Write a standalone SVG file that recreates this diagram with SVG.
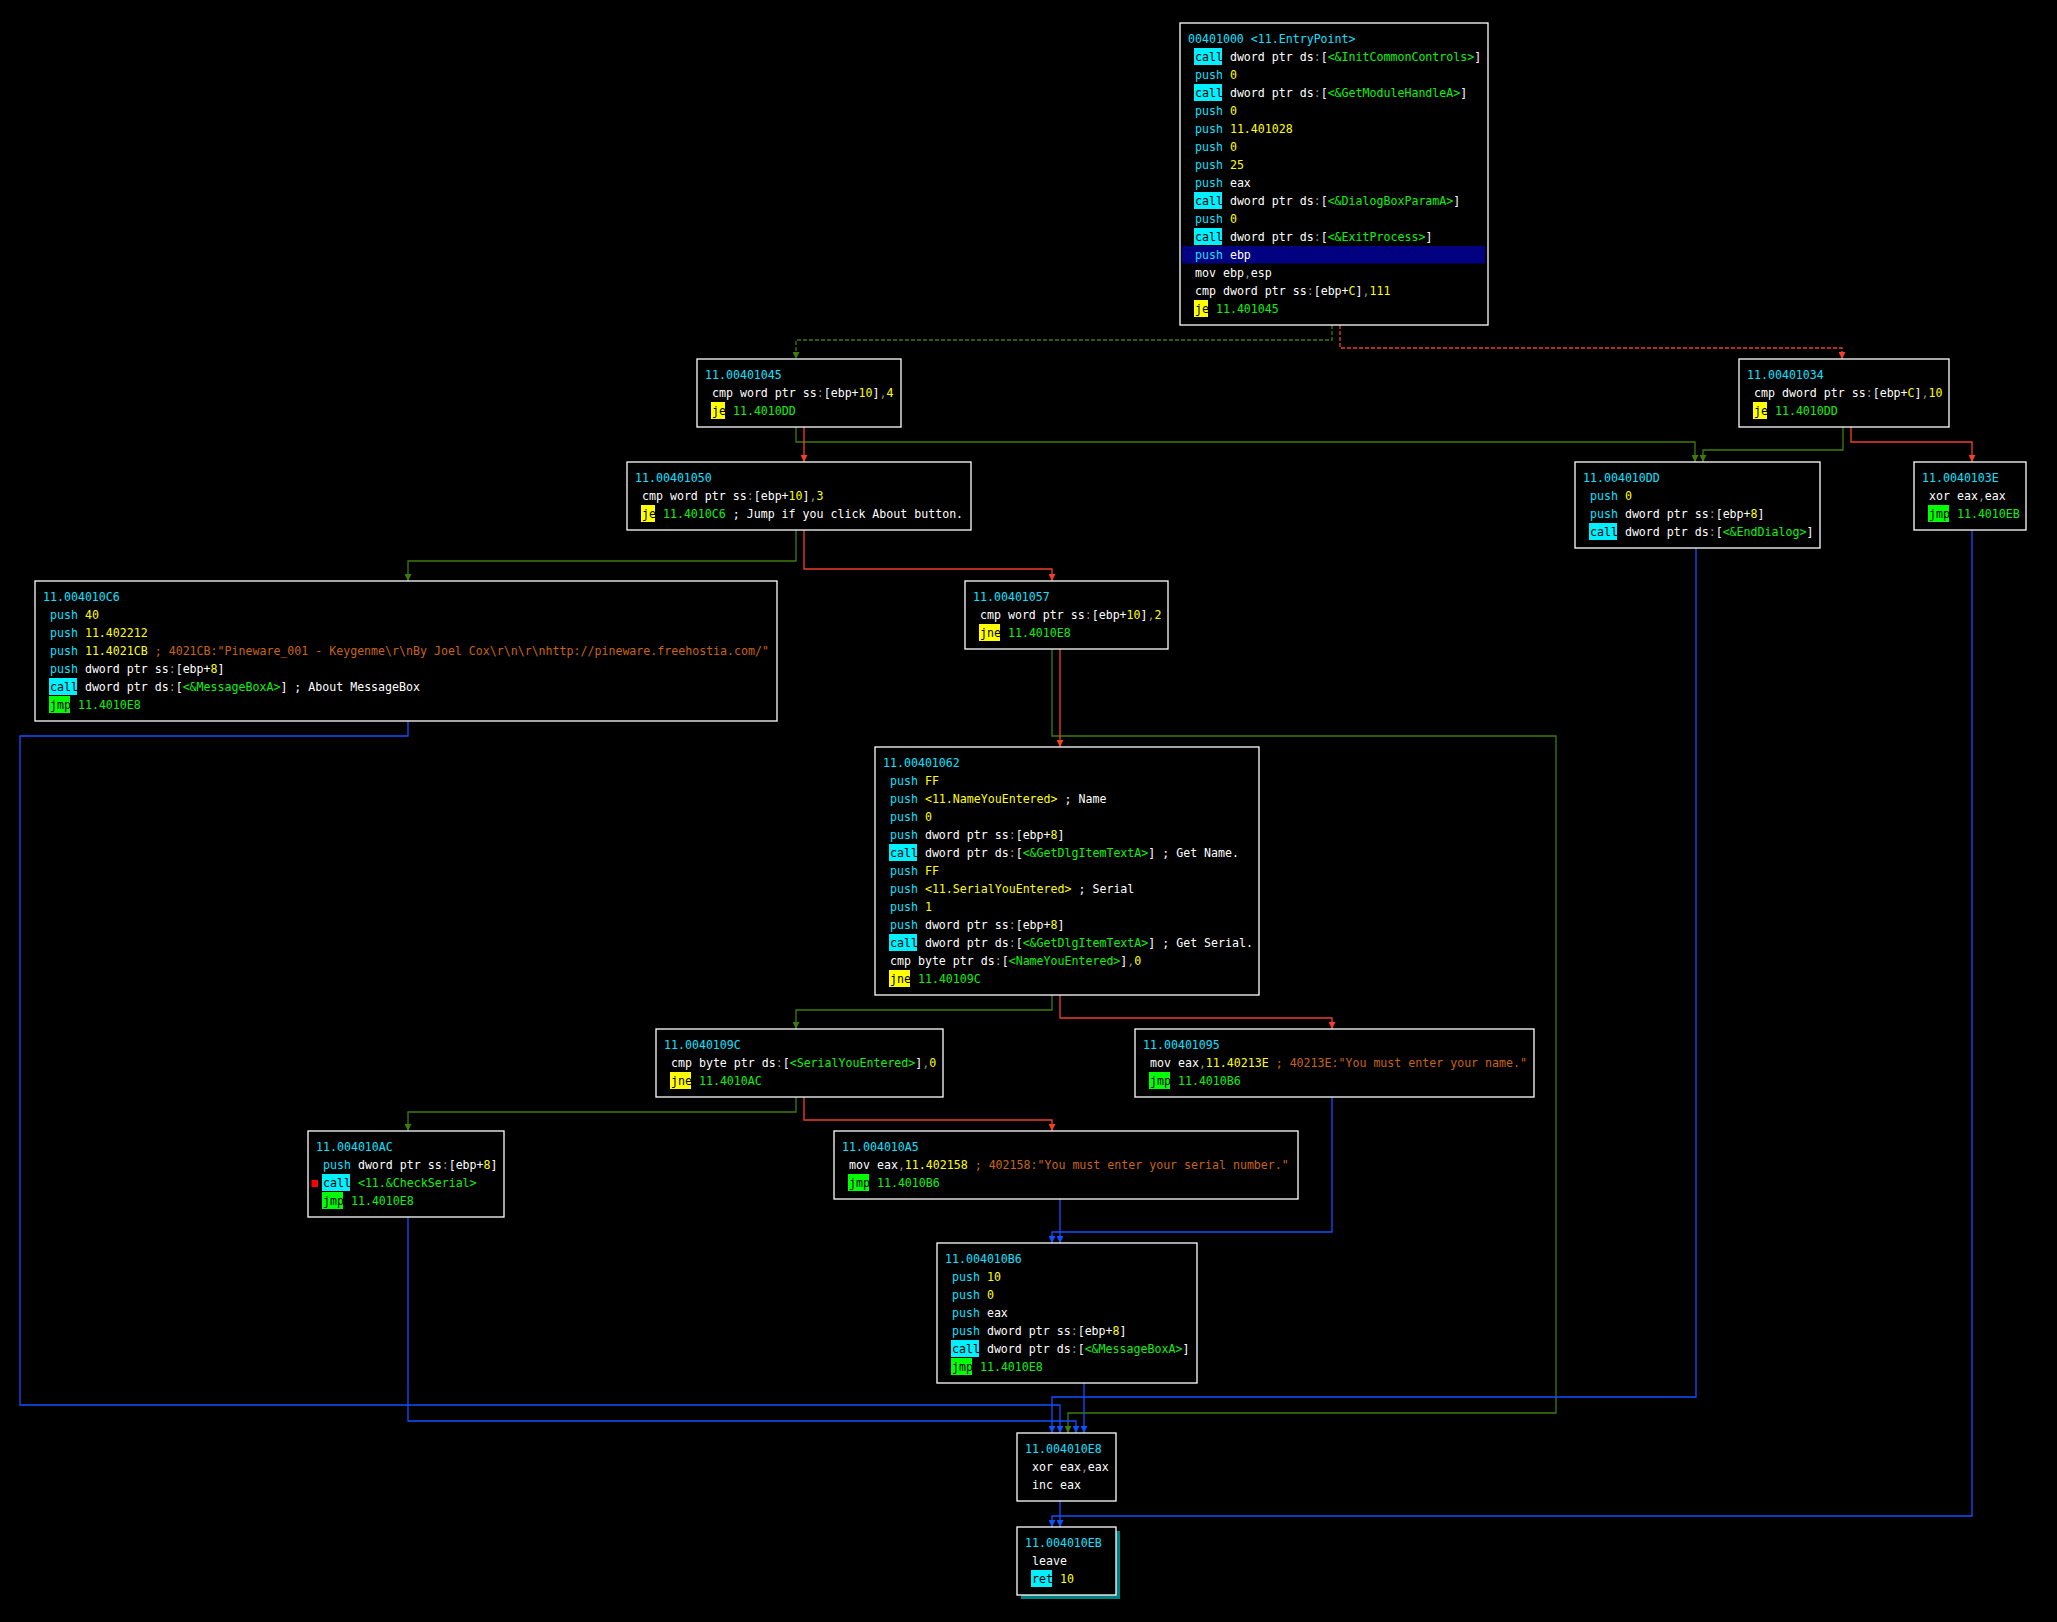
<svg xmlns="http://www.w3.org/2000/svg" width="2057" height="1622" viewBox="0 0 2057 1622">
<defs>
<style>
.tx{font-family:"DejaVu Sans Mono","Liberation Mono",monospace;font-size:11.6px;fill:#ffffff}
.a{fill:#10e0ff}.m{fill:#10e0ff}.k{fill:#000000}.y{fill:#ffff00}.g{fill:#10f010}.p{fill:#909090}.o{fill:#c86414}
.hc{fill:#00f0ff}.hy{fill:#ffff00}.hg{fill:#00ff00}
.box{fill:#000000;stroke:#ffffff;stroke-width:1.3}
.e{fill:none;stroke-width:1.3}
.eg{stroke:#3c7d0a;marker-end:url(#ag)}.er{stroke:#f04028;marker-end:url(#ar)}.eb{stroke:#1050ff;marker-end:url(#ab)}
.d{stroke-dasharray:4,2}
</style>
<marker id="ag" viewBox="0 0 8 8" refX="8" refY="4" markerWidth="7" markerHeight="7" markerUnits="userSpaceOnUse" orient="auto"><path d="M0,0 L8,4 L0,8 Z" fill="#3c7d0a"/></marker>
<marker id="ar" viewBox="0 0 8 8" refX="8" refY="4" markerWidth="7" markerHeight="7" markerUnits="userSpaceOnUse" orient="auto"><path d="M0,0 L8,4 L0,8 Z" fill="#f04028"/></marker>
<marker id="ab" viewBox="0 0 8 8" refX="8" refY="4" markerWidth="7" markerHeight="7" markerUnits="userSpaceOnUse" orient="auto"><path d="M0,0 L8,4 L0,8 Z" fill="#1050ff"/></marker>
</defs>
<rect x="0" y="0" width="2057" height="1622" fill="#000000"/>

<g id="edges">
<path class="e eg d" d="M1332,325 V340 H796 V359"/>
<path class="e er d" d="M1340,325 V348 H1842 V359"/>
<path class="e eg" d="M796,427 V442 H1695 V462"/>
<path class="e er" d="M804,427 V462"/>
<path class="e eg" d="M1843,427 V450 H1703 V462"/>
<path class="e er" d="M1851,427 V442 H1972 V462"/>
<path class="e eg" d="M796,530 V561 H408 V581"/>
<path class="e er" d="M804,530 V569 H1052 V581"/>
<path class="e eg" d="M1052,649 V736 H1556 V1413 H1068 V1433"/>
<path class="e er" d="M1060,649 V747"/>
<path class="e eb" d="M408,721 V736 H20 V1405 H1060 V1433"/>
<path class="e eb" d="M1696,548 V1397 H1052 V1433"/>
<path class="e eb" d="M1972,530 V1516 H1052 V1527"/>
<path class="e eg" d="M1052,995 V1010 H796 V1029"/>
<path class="e er" d="M1060,995 V1018 H1332 V1029"/>
<path class="e eg" d="M796,1097 V1112 H408 V1131"/>
<path class="e er" d="M804,1097 V1120 H1052 V1131"/>
<path class="e eb" d="M1332,1097 V1232 H1052 V1243"/>
<path class="e eb" d="M1060,1199 V1243"/>
<path class="e eb" d="M408,1217 V1421 H1076 V1433"/>
<path class="e eb" d="M1084,1383 V1433"/>
<path class="e eb" d="M1060,1501 V1527"/>
</g>

<g id="n-00401000">
<rect class="box" x="1180" y="23" width="308" height="302"/>
<rect x="1182" y="246" width="303" height="17.5" fill="#000080"/>
<rect class="hc" x="1194" y="48" width="28" height="17"/>
<rect class="hc" x="1194" y="84" width="28" height="17"/>
<rect class="hc" x="1194" y="192" width="28" height="17"/>
<rect class="hc" x="1194" y="228" width="28" height="17"/>
<rect class="hy" x="1194" y="300" width="14" height="17"/>
<text class="tx a" x="1188" y="43.3">00401000 &lt;11.EntryPoint&gt;</text>
<text class="tx" x="1195" y="61.3"><tspan class="k">call</tspan> dword ptr ds<tspan class="p">:</tspan>[<tspan class="g">&lt;&amp;InitCommonControls&gt;</tspan>]</text>
<text class="tx" x="1195" y="79.3"><tspan class="m">push</tspan> <tspan class="y">0</tspan></text>
<text class="tx" x="1195" y="97.3"><tspan class="k">call</tspan> dword ptr ds<tspan class="p">:</tspan>[<tspan class="g">&lt;&amp;GetModuleHandleA&gt;</tspan>]</text>
<text class="tx" x="1195" y="115.3"><tspan class="m">push</tspan> <tspan class="y">0</tspan></text>
<text class="tx" x="1195" y="133.3"><tspan class="m">push</tspan> <tspan class="y">11.401028</tspan></text>
<text class="tx" x="1195" y="151.3"><tspan class="m">push</tspan> <tspan class="y">0</tspan></text>
<text class="tx" x="1195" y="169.3"><tspan class="m">push</tspan> <tspan class="y">25</tspan></text>
<text class="tx" x="1195" y="187.3"><tspan class="m">push</tspan> eax</text>
<text class="tx" x="1195" y="205.3"><tspan class="k">call</tspan> dword ptr ds<tspan class="p">:</tspan>[<tspan class="g">&lt;&amp;DialogBoxParamA&gt;</tspan>]</text>
<text class="tx" x="1195" y="223.3"><tspan class="m">push</tspan> <tspan class="y">0</tspan></text>
<text class="tx" x="1195" y="241.3"><tspan class="k">call</tspan> dword ptr ds<tspan class="p">:</tspan>[<tspan class="g">&lt;&amp;ExitProcess&gt;</tspan>]</text>
<text class="tx" x="1195" y="259.3"><tspan class="m">push</tspan> ebp</text>
<text class="tx" x="1195" y="277.3">mov ebp<tspan class="p">,</tspan>esp</text>
<text class="tx" x="1195" y="295.3">cmp dword ptr ss<tspan class="p">:</tspan>[ebp+<tspan class="y">C</tspan>]<tspan class="p">,</tspan><tspan class="y">111</tspan></text>
<text class="tx" x="1195" y="313.3"><tspan class="k">je</tspan> <tspan class="g">11.401045</tspan></text>
</g>

<g id="n-00401045">
<rect class="box" x="697" y="359" width="204" height="68"/>
<rect class="hy" x="711" y="402" width="14" height="17"/>
<text class="tx a" x="705" y="379.3">11.00401045</text>
<text class="tx" x="712" y="397.3">cmp word ptr ss<tspan class="p">:</tspan>[ebp+<tspan class="y">10</tspan>]<tspan class="p">,</tspan><tspan class="y">4</tspan></text>
<text class="tx" x="712" y="415.3"><tspan class="k">je</tspan> <tspan class="g">11.4010DD</tspan></text>
</g>

<g id="n-00401034">
<rect class="box" x="1739" y="359" width="210" height="68"/>
<rect class="hy" x="1753" y="402" width="14" height="17"/>
<text class="tx a" x="1747" y="379.3">11.00401034</text>
<text class="tx" x="1754" y="397.3">cmp dword ptr ss<tspan class="p">:</tspan>[ebp+<tspan class="y">C</tspan>]<tspan class="p">,</tspan><tspan class="y">10</tspan></text>
<text class="tx" x="1754" y="415.3"><tspan class="k">je</tspan> <tspan class="g">11.4010DD</tspan></text>
</g>

<g id="n-00401050">
<rect class="box" x="627" y="462" width="344" height="68"/>
<rect class="hy" x="641" y="505" width="14" height="17"/>
<text class="tx a" x="635" y="482.3">11.00401050</text>
<text class="tx" x="642" y="500.3">cmp word ptr ss<tspan class="p">:</tspan>[ebp+<tspan class="y">10</tspan>]<tspan class="p">,</tspan><tspan class="y">3</tspan></text>
<text class="tx" x="642" y="518.3"><tspan class="k">je</tspan> <tspan class="g">11.4010C6</tspan> ; Jump if you click About button.</text>
</g>

<g id="n-004010DD">
<rect class="box" x="1575" y="462" width="245" height="86"/>
<rect class="hc" x="1589" y="523" width="28" height="17"/>
<text class="tx a" x="1583" y="482.3">11.004010DD</text>
<text class="tx" x="1590" y="500.3"><tspan class="m">push</tspan> <tspan class="y">0</tspan></text>
<text class="tx" x="1590" y="518.3"><tspan class="m">push</tspan> dword ptr ss<tspan class="p">:</tspan>[ebp+<tspan class="y">8</tspan>]</text>
<text class="tx" x="1590" y="536.3"><tspan class="k">call</tspan> dword ptr ds<tspan class="p">:</tspan>[<tspan class="g">&lt;&amp;EndDialog&gt;</tspan>]</text>
</g>

<g id="n-0040103E">
<rect class="box" x="1914" y="462" width="112" height="68"/>
<rect class="hg" x="1928" y="505" width="21" height="17"/>
<text class="tx a" x="1922" y="482.3">11.0040103E</text>
<text class="tx" x="1929" y="500.3">xor eax<tspan class="p">,</tspan>eax</text>
<text class="tx" x="1929" y="518.3"><tspan class="k">jmp</tspan> <tspan class="g">11.4010EB</tspan></text>
</g>

<g id="n-004010C6">
<rect class="box" x="35" y="581" width="742" height="140"/>
<rect class="hc" x="49" y="678" width="28" height="17"/>
<rect class="hg" x="49" y="696" width="21" height="17"/>
<text class="tx a" x="43" y="601.3">11.004010C6</text>
<text class="tx" x="50" y="619.3"><tspan class="m">push</tspan> <tspan class="y">40</tspan></text>
<text class="tx" x="50" y="637.3"><tspan class="m">push</tspan> <tspan class="y">11.402212</tspan></text>
<text class="tx" x="50" y="655.3"><tspan class="m">push</tspan> <tspan class="y">11.4021CB</tspan> <tspan class="o">; 4021CB:"Pineware_001 - Keygenme\r\nBy Joel Cox\r\n\r\nhttp://pineware.freehostia.com/"</tspan></text>
<text class="tx" x="50" y="673.3"><tspan class="m">push</tspan> dword ptr ss<tspan class="p">:</tspan>[ebp+<tspan class="y">8</tspan>]</text>
<text class="tx" x="50" y="691.3"><tspan class="k">call</tspan> dword ptr ds<tspan class="p">:</tspan>[<tspan class="g">&lt;&amp;MessageBoxA&gt;</tspan>] ; About MessageBox</text>
<text class="tx" x="50" y="709.3"><tspan class="k">jmp</tspan> <tspan class="g">11.4010E8</tspan></text>
</g>

<g id="n-00401057">
<rect class="box" x="965" y="581" width="203" height="68"/>
<rect class="hy" x="979" y="624" width="21" height="17"/>
<text class="tx a" x="973" y="601.3">11.00401057</text>
<text class="tx" x="980" y="619.3">cmp word ptr ss<tspan class="p">:</tspan>[ebp+<tspan class="y">10</tspan>]<tspan class="p">,</tspan><tspan class="y">2</tspan></text>
<text class="tx" x="980" y="637.3"><tspan class="k">jne</tspan> <tspan class="g">11.4010E8</tspan></text>
</g>

<g id="n-00401062">
<rect class="box" x="875" y="747" width="384" height="248"/>
<rect class="hc" x="889" y="844" width="28" height="17"/>
<rect class="hc" x="889" y="934" width="28" height="17"/>
<rect class="hy" x="889" y="970" width="21" height="17"/>
<text class="tx a" x="883" y="767.3">11.00401062</text>
<text class="tx" x="890" y="785.3"><tspan class="m">push</tspan> <tspan class="y">FF</tspan></text>
<text class="tx" x="890" y="803.3"><tspan class="m">push</tspan> <tspan class="y">&lt;11.NameYouEntered&gt;</tspan> ; Name</text>
<text class="tx" x="890" y="821.3"><tspan class="m">push</tspan> <tspan class="y">0</tspan></text>
<text class="tx" x="890" y="839.3"><tspan class="m">push</tspan> dword ptr ss<tspan class="p">:</tspan>[ebp+<tspan class="y">8</tspan>]</text>
<text class="tx" x="890" y="857.3"><tspan class="k">call</tspan> dword ptr ds<tspan class="p">:</tspan>[<tspan class="g">&lt;&amp;GetDlgItemTextA&gt;</tspan>] ; Get Name.</text>
<text class="tx" x="890" y="875.3"><tspan class="m">push</tspan> <tspan class="y">FF</tspan></text>
<text class="tx" x="890" y="893.3"><tspan class="m">push</tspan> <tspan class="y">&lt;11.SerialYouEntered&gt;</tspan> ; Serial</text>
<text class="tx" x="890" y="911.3"><tspan class="m">push</tspan> <tspan class="y">1</tspan></text>
<text class="tx" x="890" y="929.3"><tspan class="m">push</tspan> dword ptr ss<tspan class="p">:</tspan>[ebp+<tspan class="y">8</tspan>]</text>
<text class="tx" x="890" y="947.3"><tspan class="k">call</tspan> dword ptr ds<tspan class="p">:</tspan>[<tspan class="g">&lt;&amp;GetDlgItemTextA&gt;</tspan>] ; Get Serial.</text>
<text class="tx" x="890" y="965.3">cmp byte ptr ds<tspan class="p">:</tspan>[<tspan class="g">&lt;NameYouEntered&gt;</tspan>]<tspan class="p">,</tspan><tspan class="y">0</tspan></text>
<text class="tx" x="890" y="983.3"><tspan class="k">jne</tspan> <tspan class="g">11.40109C</tspan></text>
</g>

<g id="n-0040109C">
<rect class="box" x="656" y="1029" width="287" height="68"/>
<rect class="hy" x="670" y="1072" width="21" height="17"/>
<text class="tx a" x="664" y="1049.3">11.0040109C</text>
<text class="tx" x="671" y="1067.3">cmp byte ptr ds<tspan class="p">:</tspan>[<tspan class="g">&lt;SerialYouEntered&gt;</tspan>]<tspan class="p">,</tspan><tspan class="y">0</tspan></text>
<text class="tx" x="671" y="1085.3"><tspan class="k">jne</tspan> <tspan class="g">11.4010AC</tspan></text>
</g>

<g id="n-00401095">
<rect class="box" x="1135" y="1029" width="399" height="68"/>
<rect class="hg" x="1149" y="1072" width="21" height="17"/>
<text class="tx a" x="1143" y="1049.3">11.00401095</text>
<text class="tx" x="1150" y="1067.3">mov eax<tspan class="p">,</tspan><tspan class="y">11.40213E</tspan> <tspan class="o">; 40213E:"You must enter your name."</tspan></text>
<text class="tx" x="1150" y="1085.3"><tspan class="k">jmp</tspan> <tspan class="g">11.4010B6</tspan></text>
</g>

<g id="n-004010AC">
<rect class="box" x="308" y="1131" width="196" height="86"/>
<rect x="311.5" y="1180" width="6.5" height="7" fill="#ff0000"/>
<rect class="hc" x="322" y="1174" width="28" height="17"/>
<rect class="hg" x="322" y="1192" width="21" height="17"/>
<text class="tx a" x="316" y="1151.3">11.004010AC</text>
<text class="tx" x="323" y="1169.3"><tspan class="m">push</tspan> dword ptr ss<tspan class="p">:</tspan>[ebp+<tspan class="y">8</tspan>]</text>
<text class="tx" x="323" y="1187.3"><tspan class="k">call</tspan> <tspan class="g">&lt;11.&amp;CheckSerial&gt;</tspan></text>
<text class="tx" x="323" y="1205.3"><tspan class="k">jmp</tspan> <tspan class="g">11.4010E8</tspan></text>
</g>

<g id="n-004010A5">
<rect class="box" x="834" y="1131" width="464" height="68"/>
<rect class="hg" x="848" y="1174" width="21" height="17"/>
<text class="tx a" x="842" y="1151.3">11.004010A5</text>
<text class="tx" x="849" y="1169.3">mov eax<tspan class="p">,</tspan><tspan class="y">11.402158</tspan> <tspan class="o">; 402158:"You must enter your serial number."</tspan></text>
<text class="tx" x="849" y="1187.3"><tspan class="k">jmp</tspan> <tspan class="g">11.4010B6</tspan></text>
</g>

<g id="n-004010B6">
<rect class="box" x="937" y="1243" width="260" height="140"/>
<rect class="hc" x="951" y="1340" width="28" height="17"/>
<rect class="hg" x="951" y="1358" width="21" height="17"/>
<text class="tx a" x="945" y="1263.3">11.004010B6</text>
<text class="tx" x="952" y="1281.3"><tspan class="m">push</tspan> <tspan class="y">10</tspan></text>
<text class="tx" x="952" y="1299.3"><tspan class="m">push</tspan> <tspan class="y">0</tspan></text>
<text class="tx" x="952" y="1317.3"><tspan class="m">push</tspan> eax</text>
<text class="tx" x="952" y="1335.3"><tspan class="m">push</tspan> dword ptr ss<tspan class="p">:</tspan>[ebp+<tspan class="y">8</tspan>]</text>
<text class="tx" x="952" y="1353.3"><tspan class="k">call</tspan> dword ptr ds<tspan class="p">:</tspan>[<tspan class="g">&lt;&amp;MessageBoxA&gt;</tspan>]</text>
<text class="tx" x="952" y="1371.3"><tspan class="k">jmp</tspan> <tspan class="g">11.4010E8</tspan></text>
</g>

<g id="n-004010E8">
<rect class="box" x="1017" y="1433" width="99" height="68"/>
<text class="tx a" x="1025" y="1453.3">11.004010E8</text>
<text class="tx" x="1032" y="1471.3">xor eax<tspan class="p">,</tspan>eax</text>
<text class="tx" x="1032" y="1489.3">inc eax</text>
</g>

<g id="n-004010EB">
<rect x="1021" y="1531" width="99" height="68" fill="#008080"/>
<rect class="box" x="1017" y="1527" width="99" height="68"/>
<rect class="hc" x="1031" y="1570" width="21" height="17"/>
<text class="tx a" x="1025" y="1547.3">11.004010EB</text>
<text class="tx" x="1032" y="1565.3">leave</text>
<text class="tx" x="1032" y="1583.3"><tspan class="k">ret</tspan> <tspan class="y">10</tspan></text>
</g>
</svg>
